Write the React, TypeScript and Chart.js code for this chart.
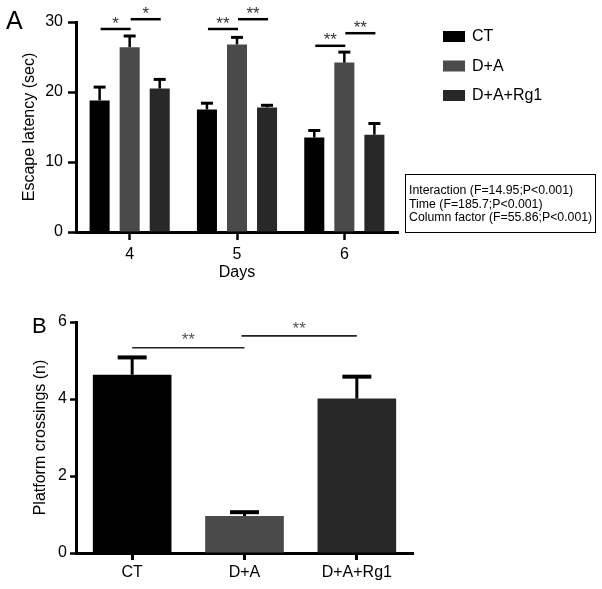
import React, { useEffect, useRef } from "react";
import { Chart, registerables } from "chart.js";

Chart.register(...registerables);

const FONT = "'Liberation Sans', Arial, Helvetica, sans-serif";

// ---------- Panel A data ----------
const days = ["4", "5", "6"];
const groups = ["CT", "D+A", "D+A+Rg1"];
const groupColors = ["#000000", "#4a4a4a", "#282828"];
const latencyCT = [18.8, 17.5, 13.5];
const latencyDA = [26.4, 26.8, 24.2];
const latencyRg1 = [20.5, 17.8, 13.9];
const latencyErrCT = [1.9, 0.9, 1.0];
const latencyErrDA = [1.6, 1.0, 1.5];
const latencyErrRg1 = [1.3, 0.3, 1.6];
const latencyTicks = [0, 10, 20, 30];
// [day index, from series, to series, y value, label]
const latencySig: [number, number, number, number, string][] = [
  [0, 0, 1, 29.0, "*"],
  [0, 1, 2, 30.4, "*"],
  [1, 0, 1, 29.0, "**"],
  [1, 1, 2, 30.4, "**"],
  [2, 0, 1, 26.6, "**"],
  [2, 1, 2, 28.4, "**"],
];
const statsLines = [
  "Interaction (F=14.95;P<0.001)",
  "Time (F=185.7;P<0.001)",
  "Column factor (F=55.86;P<0.001)",
];

// ---------- Panel B data ----------
const crossings = [4.63, 0.96, 4.01];
const crossingsErr = [0.45, 0.1, 0.57];
const crossingsTicks = [0, 2, 4, 6];
// [from, to, y value, label]
const crossingsSig: [number, number, number, string][] = [
  [0, 1, 5.33, "**"],
  [1, 2, 5.64, "**"],
];

function drawErrorBar(
  ctx: CanvasRenderingContext2D,
  x: number,
  yBar: number,
  yTop: number,
  capHalf: number,
  stemW: number,
  capW: number
) {
  ctx.save();
  ctx.strokeStyle = "#000";
  ctx.lineCap = "butt";
  ctx.lineWidth = stemW;
  ctx.beginPath();
  ctx.moveTo(x, yBar);
  ctx.lineTo(x, yTop);
  ctx.stroke();
  ctx.lineWidth = capW;
  ctx.beginPath();
  ctx.moveTo(x - capHalf, yTop);
  ctx.lineTo(x + capHalf, yTop);
  ctx.stroke();
  ctx.restore();
}

function PanelA() {
  const ref = useRef<HTMLCanvasElement | null>(null);
  useEffect(() => {
    const canvas = ref.current;
    if (!canvas) return;
    const errs = [latencyErrCT, latencyErrDA, latencyErrRg1];
    const overlay = {
      id: "overlayA",
      afterDatasetsDraw(chart: any) {
        const ctx = chart.ctx as CanvasRenderingContext2D;
        const y = chart.scales.y;
        chart.data.datasets.forEach((ds: any, i: number) => {
          const meta = chart.getDatasetMeta(i);
          meta.data.forEach((bar: any, j: number) => {
            const v = ds.data[j] as number;
            drawErrorBar(ctx, bar.x, bar.y, y.getPixelForValue(v + errs[i][j]), 6, 2.5, 3);
          });
        });
      },
      afterDraw(chart: any) {
        const ctx = chart.ctx as CanvasRenderingContext2D;
        const y = chart.scales.y;
        // significance brackets
        latencySig.forEach(([d, a, b, v, label]) => {
          const xa = chart.getDatasetMeta(a).data[d].x;
          const xb = chart.getDatasetMeta(b).data[d].x;
          const py = y.getPixelForValue(v);
          ctx.save();
          ctx.strokeStyle = "#000";
          ctx.lineWidth = 2.5;
          ctx.beginPath();
          ctx.moveTo(xa + 1, py);
          ctx.lineTo(xb + 1, py);
          ctx.stroke();
          ctx.fillStyle = "#333";
          ctx.font = `17px ${FONT}`;
          ctx.textAlign = "center";
          ctx.textBaseline = "middle";
          ctx.fillText(label, (xa + xb) / 2 + 1, py - 5);
          ctx.restore();
        });
        // legend
        ctx.save();
        const ly = [36.5, 66, 95.5];
        chart.data.datasets.forEach((ds: any, i: number) => {
          ctx.fillStyle = ds.backgroundColor;
          ctx.fillRect(443, ly[i] - 5.5, 22, 11);
          ctx.fillStyle = "#000";
          ctx.font = `16px ${FONT}`;
          ctx.textAlign = "left";
          ctx.textBaseline = "middle";
          ctx.fillText(ds.label, 472, ly[i] + 0.5);
        });
        // stats box
        ctx.strokeStyle = "#000";
        ctx.lineWidth = 1;
        ctx.strokeRect(405.5, 174.5, 190, 58);
        ctx.font = `12.3px ${FONT}`;
        ctx.fillStyle = "#000";
        const sy = [191, 204.5, 218];
        statsLines.forEach((t, i) => ctx.fillText(t, 409, sy[i]));
        // panel letter
        ctx.font = `25px ${FONT}`;
        ctx.textBaseline = "alphabetic";
        ctx.fillText("A", 6, 29);
        ctx.restore();
      },
    };
    const chart = new Chart(canvas, {
      type: "bar",
      data: {
        labels: days,
        datasets: [
          { label: groups[0], data: latencyCT, backgroundColor: groupColors[0] },
          { label: groups[1], data: latencyDA, backgroundColor: groupColors[1] },
          { label: groups[2], data: latencyRg1, backgroundColor: groupColors[2] },
        ],
      },
      options: {
        responsive: false,
        animation: false,
        devicePixelRatio: 1,
        layout: { padding: { left: 0, top: 22, right: 204, bottom: 0 } },
        datasets: { bar: { categoryPercentage: 0.84, barPercentage: 0.667 } },
        plugins: { legend: { display: false }, tooltip: { enabled: false } },
        scales: {
          x: {
            grid: {
              offset: false,
              drawOnChartArea: false,
              drawTicks: true,
              tickLength: 8,
              tickWidth: 2.5,
              tickColor: "#000",
            },
            border: { display: true, color: "#000", width: 3 },
            ticks: { color: "#000", font: { family: FONT, size: 16 }, padding: 5 },
            title: {
              display: true,
              text: "Days",
              color: "#000",
              font: { family: FONT, size: 16 },
              padding: { top: 0, bottom: 10 },
            },
            afterFit: (s: any) => {
              s.height = 60;
            },
          },
          y: {
            min: 0,
            max: 30,
            afterBuildTicks: (s: any) => {
              s.ticks = latencyTicks.map((v) => ({ value: v }));
            },
            grid: {
              drawOnChartArea: false,
              drawTicks: true,
              tickLength: 8,
              tickWidth: 2.5,
              tickColor: "#000",
            },
            border: { display: true, color: "#000", width: 3 },
            ticks: { color: "#000", font: { family: FONT, size: 16 }, padding: 5 },
            title: {
              display: true,
              text: "Escape latency (sec)",
              color: "#000",
              font: { family: FONT, size: 16 },
              padding: { top: 20, bottom: 0 },
            },
            afterFit: (s: any) => {
              s.width = 76;
            },
          },
        },
      },
      plugins: [overlay],
    } as any);
    return () => chart.destroy();
  }, []);
  return <canvas ref={ref} width={602} height={292} style={{ display: "block", width: 602, height: 292 }} />;
}

function PanelB() {
  const ref = useRef<HTMLCanvasElement | null>(null);
  useEffect(() => {
    const canvas = ref.current;
    if (!canvas) return;
    const overlay = {
      id: "overlayB",
      afterDatasetsDraw(chart: any) {
        const ctx = chart.ctx as CanvasRenderingContext2D;
        const y = chart.scales.y;
        const meta = chart.getDatasetMeta(0);
        meta.data.forEach((bar: any, j: number) => {
          drawErrorBar(ctx, bar.x, bar.y, y.getPixelForValue(crossings[j] + crossingsErr[j]), 14.5, 3, 4);
        });
      },
      afterDraw(chart: any) {
        const ctx = chart.ctx as CanvasRenderingContext2D;
        const y = chart.scales.y;
        const meta = chart.getDatasetMeta(0);
        crossingsSig.forEach(([a, b, v, label], k) => {
          const xa = meta.data[a].x + (k === 1 ? -3 : 0);
          const xb = meta.data[b].x;
          const py = y.getPixelForValue(v);
          ctx.save();
          ctx.strokeStyle = "#222";
          ctx.lineWidth = 1.6;
          ctx.beginPath();
          ctx.moveTo(xa, py);
          ctx.lineTo(xb, py);
          ctx.stroke();
          ctx.fillStyle = "#555";
          ctx.font = `17px ${FONT}`;
          ctx.textAlign = "center";
          ctx.textBaseline = "middle";
          ctx.fillText(label, (xa + xb) / 2, py - 7);
          ctx.restore();
        });
        ctx.save();
        ctx.fillStyle = "#000";
        ctx.font = `22px ${FONT}`;
        ctx.textAlign = "left";
        ctx.textBaseline = "alphabetic";
        ctx.fillText("B", 32, 41);
        ctx.restore();
      },
    };
    const chart = new Chart(canvas, {
      type: "bar",
      data: {
        labels: groups,
        datasets: [{ label: "Platform crossings", data: crossings, backgroundColor: groupColors }],
      },
      options: {
        responsive: false,
        animation: false,
        devicePixelRatio: 1,
        layout: { padding: { left: 0, top: 30, right: 189, bottom: 0 } },
        datasets: { bar: { categoryPercentage: 1, barPercentage: 0.7 } },
        plugins: { legend: { display: false }, tooltip: { enabled: false } },
        scales: {
          x: {
            grid: {
              offset: false,
              drawOnChartArea: false,
              drawTicks: true,
              tickLength: 7,
              tickWidth: 3,
              tickColor: "#000",
            },
            border: { display: true, color: "#000", width: 3 },
            ticks: { color: "#000", font: { family: FONT, size: 16 }, padding: 3 },
            afterFit: (s: any) => {
              s.height = 36;
            },
          },
          y: {
            min: 0,
            max: 6,
            afterBuildTicks: (s: any) => {
              s.ticks = crossingsTicks.map((v) => ({ value: v }));
            },
            grid: {
              drawOnChartArea: false,
              drawTicks: true,
              tickLength: 6,
              tickWidth: 2.5,
              tickColor: "#000",
            },
            border: { display: true, color: "#000", width: 3 },
            ticks: { color: "#000", font: { family: FONT, size: 16 }, padding: 3 },
            title: {
              display: true,
              text: "Platform crossings (n)",
              color: "#000",
              font: { family: FONT, size: 16 },
              padding: { top: 31, bottom: 0 },
            },
            afterFit: (s: any) => {
              s.width = 76;
            },
          },
        },
      },
      plugins: [overlay],
    } as any);
    return () => chart.destroy();
  }, []);
  return <canvas ref={ref} width={602} height={297} style={{ display: "block", width: 602, height: 297 }} />;
}

export default function App() {
  return (
    <div style={{ position: "absolute", left: 0, top: 0, width: 602, height: 589, background: "#fff" }}>
      <PanelA />
      <PanelB />
    </div>
  );
}
